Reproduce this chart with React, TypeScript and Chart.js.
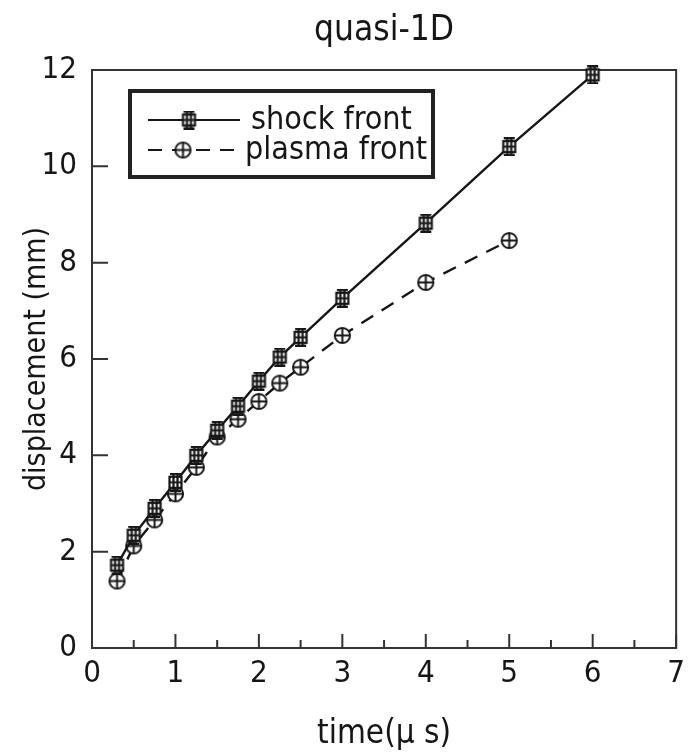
import { useEffect, useRef } from 'react';
import { Chart, registerables } from 'chart.js';

Chart.register(...registerables);

// ---- data ----
const shockTime = [0.3, 0.5, 0.75, 1.0, 1.25, 1.5, 1.75, 2.0, 2.25, 2.5, 3.0, 4.0, 5.0, 6.0];
const shockDisp = [1.72, 2.34, 2.9, 3.44, 4.0, 4.52, 5.02, 5.54, 6.04, 6.45, 7.26, 8.82, 10.41, 11.9];
const plasmaTime = [0.3, 0.5, 0.75, 1.0, 1.25, 1.5, 1.75, 2.0, 2.25, 2.5, 3.0, 4.0, 5.0];
const plasmaDisp = [1.39, 2.12, 2.66, 3.2, 3.75, 4.38, 4.75, 5.12, 5.5, 5.83, 6.49, 7.59, 8.46];
const xTicks = [0, 1, 2, 3, 4, 5, 6, 7];
const xMinorTicks = [0.5, 1.5, 2.5, 3.5, 4.5, 5.5, 6.5];
const yTicks = [0, 2, 4, 6, 8, 10, 12];
const seriesLabels = ['shock front', 'plasma front'];
const chartTitle = 'quasi-1D';
const xTitle = 'time(\u03bc s)';
const yTitle = 'displacement (mm)';

const FONT = '"DejaVu Sans Condensed", "Liberation Sans Narrow", "DejaVu Sans", sans-serif';
const INK = '#161616';

function makeShockMarker(): HTMLCanvasElement {
  const c = document.createElement('canvas');
  c.width = 17;
  c.height = 19;
  const g = c.getContext('2d')!;
  g.strokeStyle = INK;
  g.fillStyle = '#fff';
  g.lineWidth = 2.2;
  g.fillRect(2.5, 4, 12, 11);
  g.strokeRect(2.5, 4, 12, 11);
  g.beginPath();
  g.moveTo(2.5, 9.5);
  g.lineTo(14.5, 9.5);
  g.moveTo(6.5, 1.2);
  g.lineTo(6.5, 17.8);
  g.moveTo(10.5, 1.2);
  g.lineTo(10.5, 17.8);
  g.moveTo(3, 1.2);
  g.lineTo(14, 1.2);
  g.moveTo(3, 17.8);
  g.lineTo(14, 17.8);
  g.stroke();
  return c;
}

function makePlasmaMarker(): HTMLCanvasElement {
  const c = document.createElement('canvas');
  c.width = 19;
  c.height = 19;
  const g = c.getContext('2d')!;
  g.strokeStyle = INK;
  g.fillStyle = '#fff';
  g.lineWidth = 2;
  g.beginPath();
  g.arc(9.5, 9.5, 7.6, 0, Math.PI * 2);
  g.fill();
  g.stroke();
  g.beginPath();
  g.moveTo(2, 9.5);
  g.lineTo(17, 9.5);
  g.moveTo(9.5, 2);
  g.lineTo(9.5, 17);
  g.stroke();
  return c;
}

const framePlugin = {
  id: 'frameTicks',
  beforeDatasetsDraw(chart: any) {
    const { ctx, chartArea } = chart;
    const xs = chart.scales.x;
    const ys = chart.scales.y;
    ctx.save();
    ctx.strokeStyle = '#333';
    ctx.lineWidth = 2;
    ctx.strokeRect(chartArea.left, chartArea.top, chartArea.right - chartArea.left, chartArea.bottom - chartArea.top);
    ctx.beginPath();
    xTicks.forEach((v) => {
      const px = xs.getPixelForValue(v);
      ctx.moveTo(px, chartArea.bottom);
      ctx.lineTo(px, chartArea.bottom - 14);
    });
    xMinorTicks.forEach((v) => {
      const px = xs.getPixelForValue(v);
      ctx.moveTo(px, chartArea.bottom);
      ctx.lineTo(px, chartArea.bottom - 8);
    });
    yTicks.forEach((v) => {
      const py = ys.getPixelForValue(v);
      ctx.moveTo(chartArea.left, py);
      ctx.lineTo(chartArea.left + 16, py);
    });
    ctx.stroke();
    ctx.restore();
  },
};

const legendPlugin = {
  id: 'boxLegend',
  afterDraw(chart: any) {
    const { ctx, chartArea } = chart;
    const bx = chartArea.left + 38;
    const by = chartArea.top + 21;
    const bw = 303;
    const bh = 86;
    ctx.save();
    ctx.fillStyle = '#fff';
    ctx.fillRect(bx, by, bw, bh);
    ctx.strokeStyle = '#222';
    ctx.lineWidth = 4;
    ctx.strokeRect(bx, by, bw, bh);
    ctx.font = `32px ${FONT}`;
    ctx.textBaseline = 'middle';
    ctx.fillStyle = INK;
    chart.data.datasets.forEach((ds: any, i: number) => {
      const ry = by + 29 + i * 30;
      const x0 = bx + 18;
      const x1 = bx + 110;
      ctx.strokeStyle = INK;
      ctx.lineWidth = 2;
      ctx.setLineDash(ds.borderDash || []);
      ctx.beginPath();
      ctx.moveTo(x0, ry);
      ctx.lineTo(x1, ry);
      ctx.stroke();
      ctx.setLineDash([]);
      const img = ds.pointStyle as HTMLCanvasElement;
      const mx = bx + (i === 0 ? 59 : 53);
      ctx.drawImage(img, mx - img.width / 2, ry - img.height / 2);
      ctx.fillText(ds.label, bx + (i === 0 ? 121 : 115), ry + 1);
    });
    ctx.restore();
  },
};

export default function App() {
  const ref = useRef<HTMLCanvasElement>(null);
  useEffect(() => {
    document.body.style.margin = '0';
    const canvas = ref.current!;
    const shockMarker = makeShockMarker();
    const plasmaMarker = makePlasmaMarker();
    const chart = new Chart(canvas, {
      type: 'line',
      data: {
        datasets: [
          {
            label: seriesLabels[0],
            data: shockTime.map((t, i) => ({ x: t, y: shockDisp[i] })),
            borderColor: INK,
            borderWidth: 2.4,
            pointStyle: shockMarker as any,
            pointRadius: 8,
            tension: 0,
            clip: false as any,
          },
          {
            label: seriesLabels[1],
            data: plasmaTime.map((t, i) => ({ x: t, y: plasmaDisp[i] })),
            borderColor: INK,
            borderWidth: 2.4,
            borderDash: [14, 10],
            pointStyle: plasmaMarker as any,
            pointRadius: 8,
            tension: 0,
            clip: false as any,
          },
        ],
      },
      options: {
        responsive: false,
        animation: false,
        devicePixelRatio: 1,
        layout: { padding: { left: 0, right: 8, top: 0, bottom: 0 } },
        plugins: {
          legend: { display: false },
          tooltip: { enabled: false },
          title: {
            display: true,
            text: chartTitle,
            fullSize: false,
            color: INK,
            font: { family: FONT, size: 35, weight: 'normal', lineHeight: 1.2 },
            padding: { top: 10, bottom: 18 },
          },
        },
        scales: {
          x: {
            type: 'linear',
            min: 0,
            max: 7,
            afterBuildTicks: (s: any) => {
              s.ticks = xTicks.map((v) => ({ value: v }));
            },
            afterFit: (s: any) => {
              s.height = 106;
            },
            grid: { display: false, drawTicks: false },
            border: { display: false },
            ticks: {
              color: INK,
              padding: 10,
              maxRotation: 0,
              font: { family: FONT, size: 31, lineHeight: 1 },
            },
            title: {
              display: true,
              text: xTitle,
              color: INK,
              font: { family: FONT, size: 33, lineHeight: 1 },
              padding: { top: 0, bottom: 3 },
            },
          },
          y: {
            type: 'linear',
            min: 0,
            max: 12,
            afterBuildTicks: (s: any) => {
              s.ticks = yTicks.map((v) => ({ value: v }));
            },
            afterFit: (s: any) => {
              s.width = 92;
            },
            grid: { display: false, drawTicks: false },
            border: { display: false },
            ticks: {
              color: INK,
              padding: 15,
              font: { family: FONT, size: 31, lineHeight: 1 },
            },
            title: {
              display: true,
              text: yTitle,
              color: INK,
              font: { family: FONT, size: 30, lineHeight: 1 },
              padding: { top: 22, bottom: 0 },
            },
          },
        },
      },
      plugins: [framePlugin, legendPlugin],
    });
    return () => chart.destroy();
  }, []);
  return <canvas ref={ref} width={695} height={754} style={{ display: 'block' }} />;
}
